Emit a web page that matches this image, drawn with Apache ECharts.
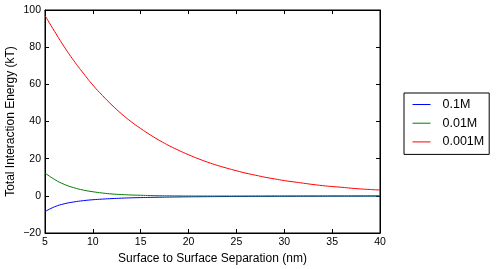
<!DOCTYPE html>
<html><head><meta charset="utf-8">
<script src="https://cdn.jsdelivr.net/npm/echarts@6/dist/echarts.min.js"></script>
<style>html,body{margin:0;padding:0;background:#fff}#c{width:497px;height:269px}</style>
</head><body><div id="c"></div>
<script>
const separation = [5,6,7,8,9,10,11,12,13,14,15,16,17,18,19,20,21,22,23,24,25,26,27,28,29,30,31,32,33,34,35,36,37,38,39,40];
const energy01M = [-8.5,-5.9,-4.3,-3.3,-2.6,-2.1,-1.76,-1.48,-1.26,-1.08,-0.94,-0.83,-0.74,-0.66,-0.59,-0.53,-0.48,-0.44,-0.40,-0.37,-0.34,-0.31,-0.29,-0.27,-0.25,-0.24,-0.22,-0.21,-0.20,-0.19,-0.17,-0.16,-0.16,-0.15,-0.14,-0.13];
const energy001M = [12.3,8.8,6.2,4.4,3.1,2.2,1.5,1.0,0.7,0.45,0.3,0.15,0.05,0.0,-0.05,-0.08,-0.1,-0.1,-0.1,-0.1,-0.1,-0.1,-0.09,-0.09,-0.08,-0.08,-0.08,-0.07,-0.07,-0.07,-0.06,-0.06,-0.06,-0.05,-0.05,-0.05];
const energy0001M = [97,88.5,80.3,72.8,66,59.6,54,48.8,44.1,39.9,36.2,32.8,29.7,26.9,24.4,22.1,20.0,18.1,16.4,14.9,13.5,12.2,11.1,10.0,9.1,8.2,7.5,6.8,6.1,5.5,5.0,4.6,4.1,3.7,3.4,3.1];
const seriesNames = ['0.1M','0.01M','0.001M'];
const xTicks = {min:5, max:40, interval:5};
const yTicks = {min:-20, max:100, interval:20};

const zip = ys => separation.map((x,i)=>[x, ys[i]]);
const font = 'Liberation Sans';
const chart = echarts.init(document.getElementById('c'), null, {renderer:'canvas'});
const tick = {show:true, inside:true, length:4, lineStyle:{color:'#000', width:1}};
const axLine = {show:true, onZero:false, lineStyle:{color:'#000', width:1}};
const lbl = {color:'#000', fontFamily:font, fontSize:10.5};
chart.setOption({
  animation:false,
  backgroundColor:'#fff',
  grid:{left:45, right:117, top:10, bottom:36, show:true, borderColor:'#000', borderWidth:1,
        containLabel:false, outerBoundsMode:'none'},
  xAxis:[
    {type:'value', min:xTicks.min, max:xTicks.max, interval:xTicks.interval, position:'bottom',
     axisLine:axLine, axisTick:tick, splitLine:{show:false},
     axisLabel:Object.assign({margin:4, formatter: v=>String(v)}, lbl),
     name:'Surface to Surface Separation (nm)', nameLocation:'middle', nameGap:20, nameMoveOverlap:false,
     nameTextStyle:{color:'#000', fontFamily:font, fontSize:12}},
    {type:'value', min:xTicks.min, max:xTicks.max, interval:xTicks.interval, position:'top',
     axisLine:axLine, axisTick:tick, splitLine:{show:false}, axisLabel:{show:false}}
  ],
  yAxis:[
    {type:'value', min:yTicks.min, max:yTicks.max, interval:yTicks.interval, position:'left',
     axisLine:axLine, axisTick:tick, splitLine:{show:false},
     axisLabel:Object.assign({margin:4, formatter: v=> v<0 ? '\u2212'+Math.abs(v) : String(v)}, lbl),
     name:'Total Interaction Energy (kT)', nameLocation:'middle', nameGap:28, nameMoveOverlap:false,
     nameTextStyle:{color:'#000', fontFamily:font, fontSize:12}},
    {type:'value', min:yTicks.min, max:yTicks.max, interval:yTicks.interval, position:'right',
     axisLine:axLine, axisTick:tick, splitLine:{show:false}, axisLabel:{show:false}}
  ],
  legend:{
    left:404, top:93, orient:'vertical', data:seriesNames,
    backgroundColor:'#fff', borderColor:'#000', borderWidth:1, borderRadius:0,
    padding:[4,5,5,8.5], itemGap:3.7, itemWidth:18, itemHeight:1, icon:'rect',
    textStyle:{color:'#000', fontFamily:font, fontSize:12.5, padding:[0,0,0,7], lineHeight:15}
  },
  series:[
    {name:seriesNames[0], type:'line', data:zip(energy01M), smooth:true, showSymbol:false, symbol:'none',
     lineStyle:{color:'#0000ff', width:1}, itemStyle:{color:'#0000ff'}},
    {name:seriesNames[1], type:'line', data:zip(energy001M), smooth:true, showSymbol:false, symbol:'none',
     lineStyle:{color:'#008000', width:1}, itemStyle:{color:'#008000'}},
    {name:seriesNames[2], type:'line', data:zip(energy0001M), smooth:true, showSymbol:false, symbol:'none',
     lineStyle:{color:'#ff0000', width:1}, itemStyle:{color:'#ff0000'}}
  ]
});
</script></body></html>
